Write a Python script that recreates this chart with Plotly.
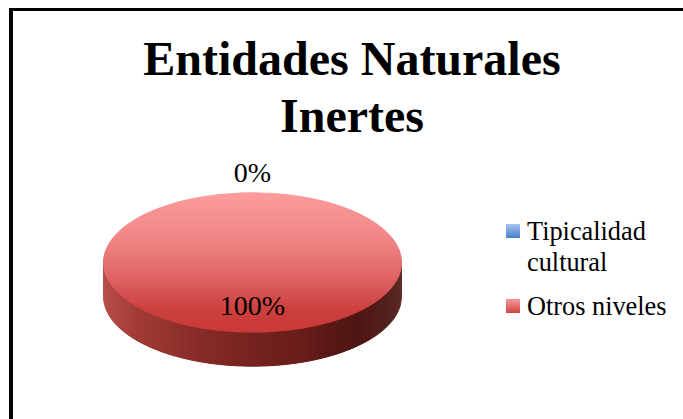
import numpy as np
import plotly.graph_objects as go

title_lines = ["Entidades Naturales", "Inertes"]
categories = ["Tipicalidad<br>cultural", "Otros niveles"]
values = [0, 100]
label_texts = ["0%", "100%"]
swatch_top = ["#A6C4F2", "#F79A9A"]
swatch_bottom = ["#4A7EC8", "#CF4442"]

W, H = 683, 419
CX, CY, RX, RY, DEPTH = 252.5, 262.5, 149, 69.7, 34

# colour stops for the lit top face (fraction top->bottom) and the rim (left->right)
top_stops = [(0, "#FD9D9D"), (.35, "#F08484"), (.6, "#E06666"), (.85, "#CC3F3D"), (1, "#C93A38")]
side_stops = [(0, "#B8504A"), (.12, "#A23B36"), (.35, "#842A26"), (.65, "#6A1E1A"), (.85, "#4D1512"), (.97, "#552420"), (1, "#5E2B27")]


def hex2rgb(h):
    return np.array([int(h[i:i + 2], 16) for i in (1, 3, 5)], float)


def colour(stops, t):
    xs = [s[0] for s in stops]
    ch = np.array([hex2rgb(s[1]) for s in stops])
    return "rgb(%d,%d,%d)" % tuple(np.interp(t, xs, ch[:, i]) for i in range(3))


def clip(poly, axis, lo, hi):
    for sign, bound in ((1, lo), (-1, hi)):
        out = []
        for i in range(len(poly)):
            a, b = poly[i], poly[(i + 1) % len(poly)]
            da, db = sign * (a[axis] - bound), sign * (b[axis] - bound)
            if da >= 0:
                out.append(a)
            if da * db < 0:
                s = da / (da - db)
                out.append((a[0] + s * (b[0] - a[0]), a[1] + s * (b[1] - a[1])))
        poly = out
        if not poly:
            break
    return poly


fig = go.Figure()


def add_poly(poly, col):
    if len(poly) < 3:
        return
    xs = [p[0] for p in poly] + [poly[0][0]]
    ys = [p[1] for p in poly] + [poly[0][1]]
    fig.add_trace(go.Scatter(x=xs, y=ys, mode="lines", fill="toself", fillcolor=col,
                             line=dict(color=col, width=1), hoverinfo="skip", showlegend=False))


total = sum(values)
start = 0.0
mids = []
for v in values:
    frac = v / total
    end = start + frac
    mids.append((start + end) / 2)
    if v > 0:
        th = np.linspace(start, end, 361) * 2 * np.pi
        ex = CX + RX * np.sin(th)
        ey = CY - RY * np.cos(th)
        # rim: visible only on the front half
        front = [(x, y) for x, y in zip(ex, ey) if y >= CY]
        front.sort()
        rim = front + [(x, y + DEPTH) for x, y in reversed(front)]
        N = 150
        for i in range(N):
            x0 = CX - RX + 2 * RX * i / N
            x1 = CX - RX + 2 * RX * (i + 1) / N
            add_poly(clip(rim, 0, x0, x1), colour(side_stops, (i + .5) / N))
        face = list(zip(ex, ey))
        if frac < 1:
            face.append((CX, CY))
        N = 70
        for i in range(N):
            y0 = CY - RY + 2 * RY * i / N
            y1 = CY - RY + 2 * RY * (i + 1) / N
            add_poly(clip(face, 1, y0, y1), colour(top_stops, (i + .5) / N))
    start = end

# data labels
lab_x, lab_y = [], []
for m, v in zip(mids, values):
    a = m * 2 * np.pi
    k = 1.27 if v < 50 else 0.65
    lab_x.append(CX + RX * k * np.sin(a))
    lab_y.append(CY - RY * k * np.cos(a) + (1 if v < 50 else 0))
fig.add_trace(go.Scatter(x=lab_x, y=lab_y, mode="text", text=label_texts, textposition="middle center",
                         textfont=dict(family="Liberation Serif", size=28, color="#000"),
                         hoverinfo="skip", showlegend=False))

# legend
leg_y = [231, 306]
text_y = [[231, 262], [306]]
fig.add_trace(go.Scatter(x=[513, 513], y=leg_y, mode="markers", hoverinfo="skip", showlegend=False,
                         marker=dict(symbol="square", size=14, color=swatch_top, line=dict(width=0),
                                     gradient=dict(type="vertical", color=swatch_bottom))))
for c, ys in zip(categories, text_y):
    for part, y in zip(c.split("<br>"), ys):
        fig.add_annotation(x=527, y=y, xref="x", yref="y", text=part, showarrow=False, xanchor="left",
                           yanchor="middle", align="left", xshift=-2,
                           font=dict(family="Liberation Serif", size=26.3, color="#000"))

# second title line (its spacing is tighter than a <br> gives)
fig.add_annotation(x=352, y=115, xref="x", yref="y", text=title_lines[1], showarrow=False,
                   xanchor="center", yanchor="middle",
                   font=dict(family="Liberation Serif", size=48, color="#000", weight="bold"))

fig.update_layout(
    width=W, height=H, margin=dict(l=0, r=0, t=0, b=0), paper_bgcolor="#fff", plot_bgcolor="#fff",
    xaxis=dict(range=[0, W], visible=False, fixedrange=True),
    yaxis=dict(range=[H, 0], visible=False, fixedrange=True),
    title=dict(text=title_lines[0], x=352 / W, xanchor="center", y=1 - 58 / H, yanchor="middle",
               font=dict(family="Liberation Serif", size=48, color="#000", weight="bold")),
    shapes=[
        dict(type="line", xref="paper", yref="paper", x0=11 / W, x1=1, y0=1 - 9.5 / H, y1=1 - 9.5 / H, line=dict(color="#000", width=3)),
        dict(type="line", xref="paper", yref="paper", x0=11 / W, x1=11 / W, y0=0, y1=1 - 8 / H, line=dict(color="#000", width=4)),
    ],
)
fig.write_html("out.html", config=dict(displayModeBar=False),
               post_script="document.body.style.margin='0';document.body.style.overflow='hidden';")
